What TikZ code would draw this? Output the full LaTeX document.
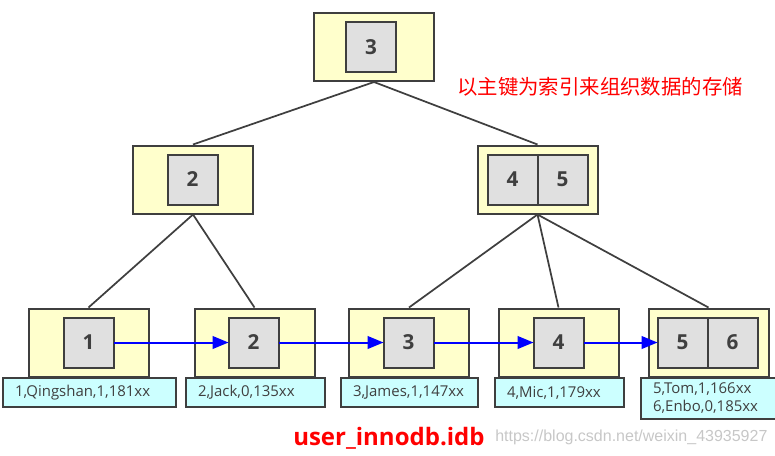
\documentclass[tikz,border=0pt]{standalone}
\usepackage{fontspec}
\setmainfont{Open Sans}
\newfontfamily\cjk{Noto Sans CJK SC}
\newfontfamily\wmfont{Liberation Sans}
\usetikzlibrary{arrows.meta, positioning}
\definecolor{pageyellow}{HTML}{FFFFCC}
\definecolor{keygray}{HTML}{E0E0E0}
\definecolor{rowcyan}{HTML}{CCFFFF}
\definecolor{boxline}{HTML}{3F3F3F}
\tikzset{
  page/.style={draw=boxline, fill=pageyellow, line width=1.5pt,
    minimum width=90pt, minimum height=51pt, inner sep=0pt},
  key/.style={draw=boxline, fill=keygray, line width=1.5pt,
    minimum width=37.5pt, minimum height=37.5pt, inner sep=0pt, outer sep=0pt,
    font=\fontsize{15.5}{18}\selectfont\bfseries, text=boxline},
  row/.style={draw=boxline, fill=rowcyan, line width=1.5pt, anchor=north west,
    minimum height=21.75pt, inner xsep=9pt, inner ysep=2pt, align=left,
    font=\fontsize{11.2}{13.5}\selectfont, text=boxline},
  edge/.style={draw=boxline, line width=1.3pt},
  link/.style={draw=blue, line width=1.5pt, -{Triangle[length=12pt, width=9.5pt]}}
}
\begin{document}
\begin{tikzpicture}[x=0.75pt, y=-0.75pt]
\useasboundingbox (0,0) rectangle (775,455);
% pages
\node[page] (root)  at (374,47)    {};
\node[page] (mid2)  at (193,179.5) {};
\node[page] (mid45) at (537.5,179.5) {};
\node[page] (leaf1) at (88.5,342.5) {};
\node[page] (leaf2) at (254.5,342.5) {};
\node[page] (leaf3) at (409,342.5) {};
\node[page] (leaf4) at (558.5,342.5) {};
\node[page] (leaf5) at (708.5,342.5) {};
% keys
\node[key] (i3) at (371,47) {3};
\node[key] (i2) at (192.5,179.5) {2};
\node[key] (i4) at (512.5,179.5) {4};
\node[key, right=0pt of i4] (i5) {5};
\node[key] (d1) at (88.5,342.5) {1};
\node[key] (d2) at (253.5,342.5) {2};
\node[key] (d3) at (408.5,342.5) {3};
\node[key] (d4) at (558.5,342.5) {4};
\node[key] (d5) at (682.5,342.5) {5};
\node[key, right=0pt of d5] (d6) {6};
% rows
\node[row, text width=111.75pt] (row1) at (2,377)   {1,Qingshan,1,181xx};
\node[row, text width=86.25pt]  (row2) at (185,377) {2,Jack,0,135xx};
\node[row, text width=84.75pt]  (row3) at (340,377) {3,James,1,147xx};
\node[row, text width=78.75pt]  (row4) at (494,377) {4,Mic,1,179xx};
\node[row, text width=83.25pt, minimum height=30.75pt, inner ysep=1pt]
  (row5) at (640,377) {5,Tom,1,166xx\\6,Enbo,0,185xx};
% tree edges
\draw[edge] (root.south) -- (mid2.north);
\draw[edge] (root.south) -- (mid45.north);
\draw[edge] (mid2.south) -- (leaf1.north);
\draw[edge] (mid2.south) -- (leaf2.north);
\draw[edge] (mid45.south) -- (leaf3.north);
\draw[edge] (mid45.south) -- (leaf4.north);
\draw[edge] (mid45.south) -- (leaf5.north);
% leaf links
\draw[link] (d1) -- (d2);
\draw[link] (d2) -- (d3);
\draw[link] (d3) -- (d4);
\draw[link] (d4) -- (d5);
% texts
\node[anchor=west, text=red, font=\cjk\fontsize{15.3}{18}\selectfont, inner sep=0pt]
  (title) at (457,87) {以主键为索引来组织数据的存储};
\node[anchor=west, text=red, font=\fontsize{18}{22}\selectfont\bfseries, inner sep=0pt]
  (fname) at (293,438) {user\_innodb.idb};
\node[anchor=west, text=black!22, font=\wmfont\fontsize{12}{14}\selectfont, inner sep=0pt]
  (mark) at (495,437) {https://blog.csdn.net/weixin\_43935927};
\end{tikzpicture}
\end{document}
